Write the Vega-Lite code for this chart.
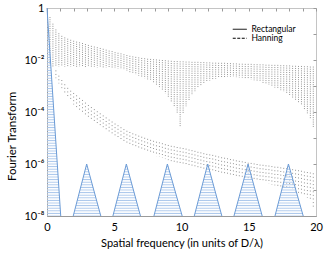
{
  "$schema": "https://vega.github.io/schema/vega-lite/v6.json",
  "width": 269,
  "height": 208,
  "autosize": {"type": "none"},
  "padding": {"left": 47, "top": 8, "right": 19, "bottom": 42},
  "config": {
    "view": {"stroke": "#c4c4c4", "strokeWidth": 1},
    "font": "Lato",
    "axis": {"labelFont": "Lato", "titleFont": "Lato", "grid": false, "domainColor": "#9a9a9a", "tickColor": "#9a9a9a", "labelColor": "#000000", "titleColor": "#000000", "titleFontWeight": "normal"}
  },
  "datasets": {
    "curves": [
      {"s":"Rectangular","x":0.22,"hi":0.45,"lo":6.3e-3},
      {"s":"Rectangular","x":0.44,"hi":0.25,"lo":5.6e-3},
      {"s":"Rectangular","x":0.66,"hi":0.15,"lo":5.6e-3},
      {"s":"Rectangular","x":0.88,"hi":0.107,"lo":5.6e-3},
      {"s":"Rectangular","x":1.1,"hi":0.085,"lo":5.6e-3},
      {"s":"Rectangular","x":1.32,"hi":0.074,"lo":5.6e-3},
      {"s":"Rectangular","x":1.54,"hi":0.066,"lo":5.6e-3},
      {"s":"Rectangular","x":1.76,"hi":0.06,"lo":5.6e-3},
      {"s":"Rectangular","x":1.98,"hi":0.055,"lo":5.5e-3},
      {"s":"Rectangular","x":2.2,"hi":0.051,"lo":5.5e-3},
      {"s":"Rectangular","x":2.42,"hi":0.048,"lo":5.5e-3},
      {"s":"Rectangular","x":2.64,"hi":0.045,"lo":5.5e-3},
      {"s":"Rectangular","x":2.86,"hi":0.041,"lo":5.4e-3},
      {"s":"Rectangular","x":3.08,"hi":0.038,"lo":5.4e-3},
      {"s":"Rectangular","x":3.3,"hi":0.035,"lo":5.4e-3},
      {"s":"Rectangular","x":3.52,"hi":0.033,"lo":5.4e-3},
      {"s":"Rectangular","x":3.74,"hi":0.031,"lo":5.2e-3},
      {"s":"Rectangular","x":3.96,"hi":0.029,"lo":5.2e-3},
      {"s":"Rectangular","x":4.18,"hi":0.027,"lo":5.2e-3},
      {"s":"Rectangular","x":4.4,"hi":0.025,"lo":5.1e-3},
      {"s":"Rectangular","x":4.62,"hi":0.023,"lo":5.1e-3},
      {"s":"Rectangular","x":4.84,"hi":0.022,"lo":5.0e-3},
      {"s":"Rectangular","x":5.06,"hi":0.020,"lo":4.9e-3},
      {"s":"Rectangular","x":5.28,"hi":0.019,"lo":4.7e-3},
      {"s":"Rectangular","x":5.5,"hi":0.018,"lo":4.5e-3},
      {"s":"Rectangular","x":5.72,"hi":0.0166,"lo":4.2e-3},
      {"s":"Rectangular","x":5.94,"hi":0.0155,"lo":3.8e-3},
      {"s":"Rectangular","x":6.16,"hi":0.0145,"lo":3.4e-3},
      {"s":"Rectangular","x":6.38,"hi":0.0138,"lo":3.0e-3},
      {"s":"Rectangular","x":6.6,"hi":0.0132,"lo":2.75e-3},
      {"s":"Rectangular","x":6.82,"hi":0.0126,"lo":2.5e-3},
      {"s":"Rectangular","x":7.04,"hi":0.012,"lo":2.3e-3},
      {"s":"Rectangular","x":7.26,"hi":0.0117,"lo":2.0e-3},
      {"s":"Rectangular","x":7.48,"hi":0.0112,"lo":1.8e-3},
      {"s":"Rectangular","x":7.7,"hi":0.011,"lo":1.6e-3},
      {"s":"Rectangular","x":7.92,"hi":0.0107,"lo":1.35e-3},
      {"s":"Rectangular","x":8.14,"hi":0.0105,"lo":1.12e-3},
      {"s":"Rectangular","x":8.36,"hi":0.0102,"lo":9.1e-4},
      {"s":"Rectangular","x":8.58,"hi":0.01,"lo":7.1e-4},
      {"s":"Rectangular","x":8.8,"hi":9.8e-3,"lo":5.2e-4},
      {"s":"Rectangular","x":9.02,"hi":9.5e-3,"lo":3.7e-4},
      {"s":"Rectangular","x":9.24,"hi":9.3e-3,"lo":2.5e-4},
      {"s":"Rectangular","x":9.46,"hi":9.1e-3,"lo":1.6e-4},
      {"s":"Rectangular","x":9.68,"hi":9.1e-3,"lo":8.9e-5},
      {"s":"Rectangular","x":9.9,"hi":8.9e-3,"lo":2.8e-5},
      {"s":"Rectangular","x":10.12,"hi":8.9e-3,"lo":8.9e-5},
      {"s":"Rectangular","x":10.34,"hi":8.7e-3,"lo":1.66e-4},
      {"s":"Rectangular","x":10.56,"hi":8.7e-3,"lo":2.8e-4},
      {"s":"Rectangular","x":10.78,"hi":8.5e-3,"lo":4.5e-4},
      {"s":"Rectangular","x":11.0,"hi":8.5e-3,"lo":6.3e-4},
      {"s":"Rectangular","x":11.22,"hi":8.5e-3,"lo":8.3e-4},
      {"s":"Rectangular","x":11.44,"hi":8.3e-3,"lo":1.05e-3},
      {"s":"Rectangular","x":11.66,"hi":8.3e-3,"lo":1.26e-3},
      {"s":"Rectangular","x":11.88,"hi":8.1e-3,"lo":1.45e-3},
      {"s":"Rectangular","x":12.1,"hi":8.1e-3,"lo":1.62e-3},
      {"s":"Rectangular","x":12.32,"hi":7.9e-3,"lo":1.78e-3},
      {"s":"Rectangular","x":12.54,"hi":7.9e-3,"lo":1.9e-3},
      {"s":"Rectangular","x":12.76,"hi":7.8e-3,"lo":2.04e-3},
      {"s":"Rectangular","x":12.98,"hi":7.8e-3,"lo":2.14e-3},
      {"s":"Rectangular","x":13.2,"hi":7.8e-3,"lo":2.19e-3},
      {"s":"Rectangular","x":13.42,"hi":7.6e-3,"lo":2.24e-3},
      {"s":"Rectangular","x":13.64,"hi":7.6e-3,"lo":2.24e-3},
      {"s":"Rectangular","x":13.86,"hi":7.4e-3,"lo":2.24e-3},
      {"s":"Rectangular","x":14.08,"hi":7.4e-3,"lo":2.19e-3},
      {"s":"Rectangular","x":14.3,"hi":7.2e-3,"lo":2.14e-3},
      {"s":"Rectangular","x":14.52,"hi":7.2e-3,"lo":2.09e-3},
      {"s":"Rectangular","x":14.74,"hi":7.1e-3,"lo":2.0e-3},
      {"s":"Rectangular","x":14.96,"hi":7.1e-3,"lo":1.9e-3},
      {"s":"Rectangular","x":15.18,"hi":7.1e-3,"lo":1.78e-3},
      {"s":"Rectangular","x":15.4,"hi":6.9e-3,"lo":1.66e-3},
      {"s":"Rectangular","x":15.62,"hi":6.9e-3,"lo":1.55e-3},
      {"s":"Rectangular","x":15.84,"hi":6.8e-3,"lo":1.45e-3},
      {"s":"Rectangular","x":16.06,"hi":6.8e-3,"lo":1.32e-3},
      {"s":"Rectangular","x":16.28,"hi":6.6e-3,"lo":1.2e-3},
      {"s":"Rectangular","x":16.5,"hi":6.6e-3,"lo":1.1e-3},
      {"s":"Rectangular","x":16.72,"hi":6.5e-3,"lo":9.8e-4},
      {"s":"Rectangular","x":16.94,"hi":6.5e-3,"lo":8.7e-4},
      {"s":"Rectangular","x":17.16,"hi":6.5e-3,"lo":7.8e-4},
      {"s":"Rectangular","x":17.38,"hi":6.3e-3,"lo":6.9e-4},
      {"s":"Rectangular","x":17.6,"hi":6.3e-3,"lo":6.0e-4},
      {"s":"Rectangular","x":17.82,"hi":6.2e-3,"lo":5.1e-4},
      {"s":"Rectangular","x":18.04,"hi":6.2e-3,"lo":4.4e-4},
      {"s":"Rectangular","x":18.26,"hi":6.0e-3,"lo":3.6e-4},
      {"s":"Rectangular","x":18.48,"hi":6.0e-3,"lo":2.95e-4},
      {"s":"Rectangular","x":18.7,"hi":5.9e-3,"lo":2.34e-4},
      {"s":"Rectangular","x":18.92,"hi":5.9e-3,"lo":1.78e-4},
      {"s":"Rectangular","x":19.14,"hi":5.75e-3,"lo":1.29e-4},
      {"s":"Rectangular","x":19.36,"hi":5.75e-3,"lo":8.9e-5},
      {"s":"Rectangular","x":19.58,"hi":5.6e-3,"lo":5.6e-5},
      {"s":"Rectangular","x":19.8,"hi":5.6e-3,"lo":2.5e-5},
      {"s":"Hanning","x":0.66,"hi":4.0e-3,"lo":2.0e-3},
      {"s":"Hanning","x":0.88,"hi":2.5e-3,"lo":1.26e-3},
      {"s":"Hanning","x":1.1,"hi":1.7e-3,"lo":8.3e-4},
      {"s":"Hanning","x":1.32,"hi":1.17e-3,"lo":5.5e-4},
      {"s":"Hanning","x":1.54,"hi":8.5e-4,"lo":3.7e-4},
      {"s":"Hanning","x":1.76,"hi":6.6e-4,"lo":2.75e-4},
      {"s":"Hanning","x":1.98,"hi":5.4e-4,"lo":1.95e-4},
      {"s":"Hanning","x":2.2,"hi":4.4e-4,"lo":1.51e-4},
      {"s":"Hanning","x":2.42,"hi":3.5e-4,"lo":1.17e-4},
      {"s":"Hanning","x":2.64,"hi":2.9e-4,"lo":9.3e-5},
      {"s":"Hanning","x":2.86,"hi":2.3e-4,"lo":7.4e-5},
      {"s":"Hanning","x":3.08,"hi":1.86e-4,"lo":5.9e-5},
      {"s":"Hanning","x":3.3,"hi":1.55e-4,"lo":4.8e-5},
      {"s":"Hanning","x":3.52,"hi":1.29e-4,"lo":3.9e-5},
      {"s":"Hanning","x":3.74,"hi":1.07e-4,"lo":3.1e-5},
      {"s":"Hanning","x":3.96,"hi":8.9e-5,"lo":2.5e-5},
      {"s":"Hanning","x":4.18,"hi":7.4e-5,"lo":2.1e-5},
      {"s":"Hanning","x":4.4,"hi":6.2e-5,"lo":1.74e-5},
      {"s":"Hanning","x":4.62,"hi":5.1e-5,"lo":1.48e-5},
      {"s":"Hanning","x":4.84,"hi":4.3e-5,"lo":1.26e-5},
      {"s":"Hanning","x":5.06,"hi":3.6e-5,"lo":1.07e-5},
      {"s":"Hanning","x":5.28,"hi":3.1e-5,"lo":9.1e-6},
      {"s":"Hanning","x":5.5,"hi":2.6e-5,"lo":7.8e-6},
      {"s":"Hanning","x":5.72,"hi":2.2e-5,"lo":6.6e-6},
      {"s":"Hanning","x":5.94,"hi":1.9e-5,"lo":5.6e-6},
      {"s":"Hanning","x":6.16,"hi":1.7e-5,"lo":5.0e-6},
      {"s":"Hanning","x":6.38,"hi":1.51e-5,"lo":4.5e-6},
      {"s":"Hanning","x":6.6,"hi":1.38e-5,"lo":4.0e-6},
      {"s":"Hanning","x":6.82,"hi":1.23e-5,"lo":3.5e-6},
      {"s":"Hanning","x":7.04,"hi":1.12e-5,"lo":3.2e-6},
      {"s":"Hanning","x":7.26,"hi":1.02e-5,"lo":2.9e-6},
      {"s":"Hanning","x":7.48,"hi":9.3e-6,"lo":2.7e-6},
      {"s":"Hanning","x":7.7,"hi":8.5e-6,"lo":2.5e-6},
      {"s":"Hanning","x":7.92,"hi":7.8e-6,"lo":2.3e-6},
      {"s":"Hanning","x":8.14,"hi":7.2e-6,"lo":2.0e-6},
      {"s":"Hanning","x":8.36,"hi":6.8e-6,"lo":1.86e-6},
      {"s":"Hanning","x":8.58,"hi":6.3e-6,"lo":1.7e-6},
      {"s":"Hanning","x":8.8,"hi":5.75e-6,"lo":1.55e-6},
      {"s":"Hanning","x":9.02,"hi":5.4e-6,"lo":1.41e-6},
      {"s":"Hanning","x":9.24,"hi":5.0e-6,"lo":1.29e-6},
      {"s":"Hanning","x":9.46,"hi":4.8e-6,"lo":1.17e-6},
      {"s":"Hanning","x":9.68,"hi":4.5e-6,"lo":1.07e-6},
      {"s":"Hanning","x":9.9,"hi":4.3e-6,"lo":8.9e-7},
      {"s":"Hanning","x":10.12,"hi":4.1e-6,"lo":9.3e-7},
      {"s":"Hanning","x":10.34,"hi":3.9e-6,"lo":8.9e-7},
      {"s":"Hanning","x":10.56,"hi":3.6e-6,"lo":8.3e-7},
      {"s":"Hanning","x":10.78,"hi":3.4e-6,"lo":7.6e-7},
      {"s":"Hanning","x":11.0,"hi":3.2e-6,"lo":7.1e-7},
      {"s":"Hanning","x":11.22,"hi":2.95e-6,"lo":6.8e-7},
      {"s":"Hanning","x":11.44,"hi":2.8e-6,"lo":6.5e-7},
      {"s":"Hanning","x":11.66,"hi":2.6e-6,"lo":6.2e-7},
      {"s":"Hanning","x":11.88,"hi":2.45e-6,"lo":5.75e-7},
      {"s":"Hanning","x":12.1,"hi":2.34e-6,"lo":5.5e-7},
      {"s":"Hanning","x":12.32,"hi":2.24e-6,"lo":5.2e-7},
      {"s":"Hanning","x":12.54,"hi":2.09e-6,"lo":5.0e-7},
      {"s":"Hanning","x":12.76,"hi":1.95e-6,"lo":4.7e-7},
      {"s":"Hanning","x":12.98,"hi":1.82e-6,"lo":4.5e-7},
      {"s":"Hanning","x":13.2,"hi":1.74e-6,"lo":4.2e-7},
      {"s":"Hanning","x":13.42,"hi":1.66e-6,"lo":4.0e-7},
      {"s":"Hanning","x":13.64,"hi":1.55e-6,"lo":3.7e-7},
      {"s":"Hanning","x":13.86,"hi":1.48e-6,"lo":3.5e-7},
      {"s":"Hanning","x":14.08,"hi":1.38e-6,"lo":3.3e-7},
      {"s":"Hanning","x":14.3,"hi":1.32e-6,"lo":3.1e-7},
      {"s":"Hanning","x":14.52,"hi":1.26e-6,"lo":2.9e-7},
      {"s":"Hanning","x":14.74,"hi":1.2e-6,"lo":2.7e-7},
      {"s":"Hanning","x":14.96,"hi":1.12e-6,"lo":2.5e-7},
      {"s":"Hanning","x":15.18,"hi":1.1e-6,"lo":2.4e-7},
      {"s":"Hanning","x":15.4,"hi":1.05e-6,"lo":2.3e-7},
      {"s":"Hanning","x":15.62,"hi":1.0e-6,"lo":2.2e-7},
      {"s":"Hanning","x":15.84,"hi":9.5e-7,"lo":2.1e-7},
      {"s":"Hanning","x":16.06,"hi":9.3e-7,"lo":2.0e-7},
      {"s":"Hanning","x":16.28,"hi":8.9e-7,"lo":1.86e-7},
      {"s":"Hanning","x":16.5,"hi":8.7e-7,"lo":1.74e-7},
      {"s":"Hanning","x":16.72,"hi":8.3e-7,"lo":1.62e-7},
      {"s":"Hanning","x":16.94,"hi":7.9e-7,"lo":1.51e-7},
      {"s":"Hanning","x":17.16,"hi":7.8e-7,"lo":1.41e-7},
      {"s":"Hanning","x":17.38,"hi":7.4e-7,"lo":1.32e-7},
      {"s":"Hanning","x":17.6,"hi":7.1e-7,"lo":1.23e-7},
      {"s":"Hanning","x":17.82,"hi":6.9e-7,"lo":1.15e-7},
      {"s":"Hanning","x":18.04,"hi":6.6e-7,"lo":1.07e-7},
      {"s":"Hanning","x":18.26,"hi":6.3e-7,"lo":9.5e-8},
      {"s":"Hanning","x":18.48,"hi":6.0e-7,"lo":8.5e-8},
      {"s":"Hanning","x":18.7,"hi":5.75e-7,"lo":7.6e-8},
      {"s":"Hanning","x":18.92,"hi":5.5e-7,"lo":6.8e-8},
      {"s":"Hanning","x":19.14,"hi":5.1e-7,"lo":5.9e-8},
      {"s":"Hanning","x":19.36,"hi":4.9e-7,"lo":5.0e-8},
      {"s":"Hanning","x":19.58,"hi":4.7e-7,"lo":4.0e-8},
      {"s":"Hanning","x":19.8,"hi":4.4e-7,"lo":2.0e-8}
    ],
    "tri": [
      {"t":0,"x":0,"y":1},
      {"t":0,"x":1.02,"y":1e-8},
      {"t":1,"x":1.95,"y":1e-8},{"t":1,"x":2.95,"y":1e-6},{"t":1,"x":4.0,"y":1e-8},
      {"t":2,"x":4.9,"y":1e-8},{"t":2,"x":5.9,"y":1e-6},{"t":2,"x":6.95,"y":1e-8},
      {"t":3,"x":7.95,"y":1e-8},{"t":3,"x":8.95,"y":1e-6},{"t":3,"x":10.05,"y":1e-8},
      {"t":4,"x":10.95,"y":1e-8},{"t":4,"x":11.95,"y":1e-6},{"t":4,"x":13.0,"y":1e-8},
      {"t":5,"x":13.9,"y":1e-8},{"t":5,"x":14.95,"y":1e-6},{"t":5,"x":16.0,"y":1e-8},
      {"t":6,"x":16.95,"y":1e-8},{"t":6,"x":17.95,"y":1e-6},{"t":6,"x":19.05,"y":1e-8}
    ]
  },
  "layer": [
    {
      "data": {"name": "curves"},
      "transform": [{"filter": "datum.s == 'Rectangular'"}],
      "mark": {"type": "rule", "color": "#8a8a8a", "strokeWidth": 0.9, "strokeDash": [1, 1.2]},
      "encoding": {
        "x": {"field": "x", "type": "quantitative",
          "scale": {"domain": [0, 20], "nice": false},
          "axis": {"orient": "bottom", "values": [0, 5, 10, 15, 20], "ticks": false, "labelFlush": false, "labelOverlap": false, "labelFontSize": 11, "labelPadding": 5, "title": "Spatial frequency (in units of D/λ)", "titleFontSize": 11, "titlePadding": 5}},
        "y": {"field": "hi", "type": "quantitative",
          "scale": {"type": "log", "domain": [1e-8, 1], "nice": false},
          "axis": {"orient": "left", "values": [1, 0.01, 0.0001, 0.000001, 0.00000001], "ticks": false, "labelFontSize": 11, "labelPadding": 3, "labelFlush": false, "labelOverlap": false,
            "labelExpr": "datum.value > 0.5 ? '1' : datum.value > 0.001 ? '10⁻²' : datum.value > 0.00001 ? '10⁻⁴' : datum.value > 0.0000001 ? '10⁻⁶' : '10⁻⁸'",
            "title": "Fourier Transform", "titleFontSize": 11.5, "titlePadding": 6, "titleY": 128}},
        "y2": {"field": "lo"}
      }
    },
    {
      "data": {"name": "curves"},
      "transform": [{"filter": "datum.s == 'Hanning'"}],
      "mark": {"type": "rule", "color": "#8a8a8a", "strokeWidth": 0.9, "strokeDash": [1, 2.6]},
      "encoding": {
        "x": {"field": "x", "type": "quantitative", "axis": null},
        "y": {"field": "hi", "type": "quantitative", "axis": null},
        "y2": {"field": "lo"}
      }
    },
    {
      "data": {"name": "curves"},
      "mark": {"type": "rule", "opacity": 0},
      "encoding": {
        "x": {"field": "x", "type": "quantitative", "axis": null},
        "y": {"field": "hi", "type": "quantitative", "axis": null},
        "y2": {"field": "lo"},
        "strokeDash": {"field": "s", "type": "nominal",
          "scale": {"domain": ["Rectangular", "Hanning"], "range": [[1, 0], [3, 1.5]]},
          "legend": {"orient": "none", "legendX": 185, "legendY": 17, "title": null,
            "symbolType": "M-1,0H3", "symbolSize": 49, "symbolStrokeColor": "#000000", "symbolStrokeWidth": 1, "symbolOpacity": 1,
            "labelFont": "Lato", "labelFontSize": 8.5, "labelColor": "#000000", "labelOffset": 11, "rowPadding": -3, "padding": 0}}
      }
    },
    {
      "data": {"name": "tri"},
      "transform": [{"filter": "datum.t == 0"}],
      "mark": {"type": "area", "color": {"gradient": "linear", "x1": 0, "y1": 0, "x2": 0, "y2": 1, "stops": [
        {"offset":0,"color":"#a0c0e9"},{"offset":0.00625,"color":"rgba(255,255,255,0)"},{"offset":0.0125,"color":"#a0c0e9"},{"offset":0.01875,"color":"rgba(255,255,255,0)"},{"offset":0.025,"color":"#a0c0e9"},{"offset":0.03125,"color":"rgba(255,255,255,0)"},{"offset":0.0375,"color":"#a0c0e9"},{"offset":0.04375,"color":"rgba(255,255,255,0)"},
        {"offset":0.05,"color":"#a0c0e9"},{"offset":0.05625,"color":"rgba(255,255,255,0)"},{"offset":0.0625,"color":"#a0c0e9"},{"offset":0.06875,"color":"rgba(255,255,255,0)"},{"offset":0.075,"color":"#a0c0e9"},{"offset":0.08125,"color":"rgba(255,255,255,0)"},{"offset":0.0875,"color":"#a0c0e9"},{"offset":0.09375,"color":"rgba(255,255,255,0)"},
        {"offset":0.1,"color":"#a0c0e9"},{"offset":0.10625,"color":"rgba(255,255,255,0)"},{"offset":0.1125,"color":"#a0c0e9"},{"offset":0.11875,"color":"rgba(255,255,255,0)"},{"offset":0.125,"color":"#a0c0e9"},{"offset":0.13125,"color":"rgba(255,255,255,0)"},{"offset":0.1375,"color":"#a0c0e9"},{"offset":0.14375,"color":"rgba(255,255,255,0)"},
        {"offset":0.15,"color":"#a0c0e9"},{"offset":0.15625,"color":"rgba(255,255,255,0)"},{"offset":0.1625,"color":"#a0c0e9"},{"offset":0.16875,"color":"rgba(255,255,255,0)"},{"offset":0.175,"color":"#a0c0e9"},{"offset":0.18125,"color":"rgba(255,255,255,0)"},{"offset":0.1875,"color":"#a0c0e9"},{"offset":0.19375,"color":"rgba(255,255,255,0)"},
        {"offset":0.2,"color":"#a0c0e9"},{"offset":0.20625,"color":"rgba(255,255,255,0)"},{"offset":0.2125,"color":"#a0c0e9"},{"offset":0.21875,"color":"rgba(255,255,255,0)"},{"offset":0.225,"color":"#a0c0e9"},{"offset":0.23125,"color":"rgba(255,255,255,0)"},{"offset":0.2375,"color":"#a0c0e9"},{"offset":0.24375,"color":"rgba(255,255,255,0)"},
        {"offset":0.25,"color":"#a0c0e9"},{"offset":0.25625,"color":"rgba(255,255,255,0)"},{"offset":0.2625,"color":"#a0c0e9"},{"offset":0.26875,"color":"rgba(255,255,255,0)"},{"offset":0.275,"color":"#a0c0e9"},{"offset":0.28125,"color":"rgba(255,255,255,0)"},{"offset":0.2875,"color":"#a0c0e9"},{"offset":0.29375,"color":"rgba(255,255,255,0)"},
        {"offset":0.3,"color":"#a0c0e9"},{"offset":0.30625,"color":"rgba(255,255,255,0)"},{"offset":0.3125,"color":"#a0c0e9"},{"offset":0.31875,"color":"rgba(255,255,255,0)"},{"offset":0.325,"color":"#a0c0e9"},{"offset":0.33125,"color":"rgba(255,255,255,0)"},{"offset":0.3375,"color":"#a0c0e9"},{"offset":0.34375,"color":"rgba(255,255,255,0)"},
        {"offset":0.35,"color":"#a0c0e9"},{"offset":0.35625,"color":"rgba(255,255,255,0)"},{"offset":0.3625,"color":"#a0c0e9"},{"offset":0.36875,"color":"rgba(255,255,255,0)"},{"offset":0.375,"color":"#a0c0e9"},{"offset":0.38125,"color":"rgba(255,255,255,0)"},{"offset":0.3875,"color":"#a0c0e9"},{"offset":0.39375,"color":"rgba(255,255,255,0)"},
        {"offset":0.4,"color":"#a0c0e9"},{"offset":0.40625,"color":"rgba(255,255,255,0)"},{"offset":0.4125,"color":"#a0c0e9"},{"offset":0.41875,"color":"rgba(255,255,255,0)"},{"offset":0.425,"color":"#a0c0e9"},{"offset":0.43125,"color":"rgba(255,255,255,0)"},{"offset":0.4375,"color":"#a0c0e9"},{"offset":0.44375,"color":"rgba(255,255,255,0)"},
        {"offset":0.45,"color":"#a0c0e9"},{"offset":0.45625,"color":"rgba(255,255,255,0)"},{"offset":0.4625,"color":"#a0c0e9"},{"offset":0.46875,"color":"rgba(255,255,255,0)"},{"offset":0.475,"color":"#a0c0e9"},{"offset":0.48125,"color":"rgba(255,255,255,0)"},{"offset":0.4875,"color":"#a0c0e9"},{"offset":0.49375,"color":"rgba(255,255,255,0)"},
        {"offset":0.5,"color":"#a0c0e9"},{"offset":0.50625,"color":"rgba(255,255,255,0)"},{"offset":0.5125,"color":"#a0c0e9"},{"offset":0.51875,"color":"rgba(255,255,255,0)"},{"offset":0.525,"color":"#a0c0e9"},{"offset":0.53125,"color":"rgba(255,255,255,0)"},{"offset":0.5375,"color":"#a0c0e9"},{"offset":0.54375,"color":"rgba(255,255,255,0)"},
        {"offset":0.55,"color":"#a0c0e9"},{"offset":0.55625,"color":"rgba(255,255,255,0)"},{"offset":0.5625,"color":"#a0c0e9"},{"offset":0.56875,"color":"rgba(255,255,255,0)"},{"offset":0.575,"color":"#a0c0e9"},{"offset":0.58125,"color":"rgba(255,255,255,0)"},{"offset":0.5875,"color":"#a0c0e9"},{"offset":0.59375,"color":"rgba(255,255,255,0)"},
        {"offset":0.6,"color":"#a0c0e9"},{"offset":0.60625,"color":"rgba(255,255,255,0)"},{"offset":0.6125,"color":"#a0c0e9"},{"offset":0.61875,"color":"rgba(255,255,255,0)"},{"offset":0.625,"color":"#a0c0e9"},{"offset":0.63125,"color":"rgba(255,255,255,0)"},{"offset":0.6375,"color":"#a0c0e9"},{"offset":0.64375,"color":"rgba(255,255,255,0)"},
        {"offset":0.65,"color":"#a0c0e9"},{"offset":0.65625,"color":"rgba(255,255,255,0)"},{"offset":0.6625,"color":"#a0c0e9"},{"offset":0.66875,"color":"rgba(255,255,255,0)"},{"offset":0.675,"color":"#a0c0e9"},{"offset":0.68125,"color":"rgba(255,255,255,0)"},{"offset":0.6875,"color":"#a0c0e9"},{"offset":0.69375,"color":"rgba(255,255,255,0)"},
        {"offset":0.7,"color":"#a0c0e9"},{"offset":0.70625,"color":"rgba(255,255,255,0)"},{"offset":0.7125,"color":"#a0c0e9"},{"offset":0.71875,"color":"rgba(255,255,255,0)"},{"offset":0.725,"color":"#a0c0e9"},{"offset":0.73125,"color":"rgba(255,255,255,0)"},{"offset":0.7375,"color":"#a0c0e9"},{"offset":0.74375,"color":"rgba(255,255,255,0)"},
        {"offset":0.75,"color":"#a0c0e9"},{"offset":0.75625,"color":"rgba(255,255,255,0)"},{"offset":0.7625,"color":"#a0c0e9"},{"offset":0.76875,"color":"rgba(255,255,255,0)"},{"offset":0.775,"color":"#a0c0e9"},{"offset":0.78125,"color":"rgba(255,255,255,0)"},{"offset":0.7875,"color":"#a0c0e9"},{"offset":0.79375,"color":"rgba(255,255,255,0)"},
        {"offset":0.8,"color":"#a0c0e9"},{"offset":0.80625,"color":"rgba(255,255,255,0)"},{"offset":0.8125,"color":"#a0c0e9"},{"offset":0.81875,"color":"rgba(255,255,255,0)"},{"offset":0.825,"color":"#a0c0e9"},{"offset":0.83125,"color":"rgba(255,255,255,0)"},{"offset":0.8375,"color":"#a0c0e9"},{"offset":0.84375,"color":"rgba(255,255,255,0)"},
        {"offset":0.85,"color":"#a0c0e9"},{"offset":0.85625,"color":"rgba(255,255,255,0)"},{"offset":0.8625,"color":"#a0c0e9"},{"offset":0.86875,"color":"rgba(255,255,255,0)"},{"offset":0.875,"color":"#a0c0e9"},{"offset":0.88125,"color":"rgba(255,255,255,0)"},{"offset":0.8875,"color":"#a0c0e9"},{"offset":0.89375,"color":"rgba(255,255,255,0)"},
        {"offset":0.9,"color":"#a0c0e9"},{"offset":0.90625,"color":"rgba(255,255,255,0)"},{"offset":0.9125,"color":"#a0c0e9"},{"offset":0.91875,"color":"rgba(255,255,255,0)"},{"offset":0.925,"color":"#a0c0e9"},{"offset":0.93125,"color":"rgba(255,255,255,0)"},{"offset":0.9375,"color":"#a0c0e9"},{"offset":0.94375,"color":"rgba(255,255,255,0)"},
        {"offset":0.95,"color":"#a0c0e9"},{"offset":0.95625,"color":"rgba(255,255,255,0)"},{"offset":0.9625,"color":"#a0c0e9"},{"offset":0.96875,"color":"rgba(255,255,255,0)"},{"offset":0.975,"color":"#a0c0e9"},{"offset":0.98125,"color":"rgba(255,255,255,0)"},{"offset":0.9875,"color":"#a0c0e9"},{"offset":0.99375,"color":"rgba(255,255,255,0)"},
        {"offset":1,"color":"#a0c0e9"}
      ]}},
      "encoding": {
        "x": {"field": "x", "type": "quantitative", "axis": null},
        "y": {"field": "y", "type": "quantitative", "axis": null},
        "y2": {"datum": 1e-8},
        "detail": {"field": "t", "type": "nominal"}
      }
    },
    {
      "data": {"name": "tri"},
      "transform": [{"filter": "datum.t > 0"}],
      "mark": {"type": "area", "color": {"gradient": "linear", "x1": 0, "y1": 0, "x2": 0, "y2": 1, "stops": [
        {"offset":0,"color":"#a0c0e9"},{"offset":0.025,"color":"rgba(255,255,255,0)"},{"offset":0.05,"color":"#a0c0e9"},{"offset":0.075,"color":"rgba(255,255,255,0)"},
        {"offset":0.1,"color":"#a0c0e9"},{"offset":0.125,"color":"rgba(255,255,255,0)"},{"offset":0.15,"color":"#a0c0e9"},{"offset":0.175,"color":"rgba(255,255,255,0)"},
        {"offset":0.2,"color":"#a0c0e9"},{"offset":0.225,"color":"rgba(255,255,255,0)"},{"offset":0.25,"color":"#a0c0e9"},{"offset":0.275,"color":"rgba(255,255,255,0)"},
        {"offset":0.3,"color":"#a0c0e9"},{"offset":0.325,"color":"rgba(255,255,255,0)"},{"offset":0.35,"color":"#a0c0e9"},{"offset":0.375,"color":"rgba(255,255,255,0)"},
        {"offset":0.4,"color":"#a0c0e9"},{"offset":0.425,"color":"rgba(255,255,255,0)"},{"offset":0.45,"color":"#a0c0e9"},{"offset":0.475,"color":"rgba(255,255,255,0)"},
        {"offset":0.5,"color":"#a0c0e9"},{"offset":0.525,"color":"rgba(255,255,255,0)"},{"offset":0.55,"color":"#a0c0e9"},{"offset":0.575,"color":"rgba(255,255,255,0)"},
        {"offset":0.6,"color":"#a0c0e9"},{"offset":0.625,"color":"rgba(255,255,255,0)"},{"offset":0.65,"color":"#a0c0e9"},{"offset":0.675,"color":"rgba(255,255,255,0)"},
        {"offset":0.7,"color":"#a0c0e9"},{"offset":0.725,"color":"rgba(255,255,255,0)"},{"offset":0.75,"color":"#a0c0e9"},{"offset":0.775,"color":"rgba(255,255,255,0)"},
        {"offset":0.8,"color":"#a0c0e9"},{"offset":0.825,"color":"rgba(255,255,255,0)"},{"offset":0.85,"color":"#a0c0e9"},{"offset":0.875,"color":"rgba(255,255,255,0)"},
        {"offset":0.9,"color":"#a0c0e9"},{"offset":0.925,"color":"rgba(255,255,255,0)"},{"offset":0.95,"color":"#a0c0e9"},{"offset":0.975,"color":"rgba(255,255,255,0)"},
        {"offset":1,"color":"#a0c0e9"}
      ]}},
      "encoding": {
        "x": {"field": "x", "type": "quantitative",
          "axis": {"orient": "top", "values": [0,1,2,3,4,5,6,7,8,9,10,11,12,13,14,15,16,17,18,19,20], "labels": false, "domain": false, "tickSize": 3, "offset": -3, "title": null}},
        "y": {"field": "y", "type": "quantitative",
          "axis": {"orient": "right", "values": [1, 0.1, 0.01, 0.001, 0.0001, 0.00001, 0.000001, 0.0000001, 0.00000001], "labels": false, "domain": false, "tickSize": 3, "offset": -3, "title": null}},
        "y2": {"datum": 1e-8},
        "detail": {"field": "t", "type": "nominal"}
      }
    },
    {
      "data": {"name": "tri"},
      "mark": {"type": "line", "color": "#6b9bd6", "strokeWidth": 1},
      "encoding": {
        "x": {"field": "x", "type": "quantitative", "axis": null},
        "y": {"field": "y", "type": "quantitative", "axis": null},
        "detail": {"field": "t", "type": "nominal"}
      }
    }
  ]
}
